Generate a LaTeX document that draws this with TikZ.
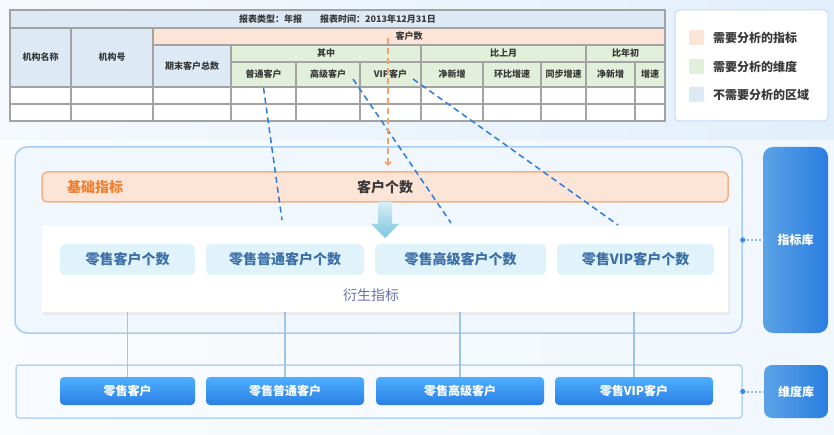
\documentclass[tikz,border=0pt]{standalone}
\usepackage{fontspec}
\setmainfont{Noto Sans CJK SC}
\usetikzlibrary{arrows.meta,calc}
\definecolor{hdrblue}{HTML}{DDE9F5}
\definecolor{peach}{HTML}{FCE4D6}
\definecolor{peachline}{HTML}{F4B183}
\definecolor{lgreen}{HTML}{E2EFDA}
\definecolor{gridgray}{HTML}{A3A3A3}
\definecolor{txtdark}{HTML}{3A3A3A}
\definecolor{mainline}{HTML}{A9CDF2}
\definecolor{mainfill}{HTML}{F1F7FE}
\definecolor{subfill}{HTML}{E1F3FA}
\definecolor{subtxt}{HTML}{3B6FA8}
\definecolor{derived}{HTML}{6A6FB0}
\definecolor{orangetxt}{HTML}{F0802E}
\definecolor{orangedash}{HTML}{F4A26B}
\definecolor{dashblue}{HTML}{2A7DE1}
\definecolor{vline}{HTML}{9EC4E8}
\definecolor{btntop}{HTML}{4DAFFF}
\definecolor{btnbot}{HTML}{2B7EE3}
\definecolor{libleft}{HTML}{5BA3E6}
\definecolor{libright}{HTML}{2A7DE1}
\definecolor{dotblue}{HTML}{3C8BE0}
\definecolor{dotline}{HTML}{8DBDF0}
\definecolor{bgleft}{HTML}{F5F9FD}
\definecolor{bgright}{HTML}{E2EFFB}
\definecolor{arrtop}{HTML}{D6EEF5}
\definecolor{arrbot}{HTML}{7EC6DE}
\tikzset{
  cell/.style={draw=gridgray, line width=1.4pt, inner sep=0pt, font=\bfseries\fontsize{9}{9}\selectfont, text=txtdark},
  legbox/.style={draw=mainline!70, fill=white, rounded corners=4pt, line width=1pt},
  swatch/.style={minimum width=15pt, minimum height=15pt, inner sep=0pt, rounded corners=1pt},
  legtxt/.style={anchor=west, font=\bfseries\fontsize{12}{12}\selectfont, text=txtdark, inner sep=0pt},
  subbox/.style={fill=subfill, rounded corners=5pt, minimum height=31pt, inner sep=0pt, text=subtxt, font=\bfseries\fontsize{14}{14}\selectfont},
  btn/.style={rounded corners=4pt, top color=btntop, bottom color=btnbot, minimum height=28pt, inner sep=0pt, text=white, font=\bfseries\fontsize{12}{12}\selectfont},
  libbox/.style={left color=libleft, right color=libright, inner sep=0pt, text=white, font=\bfseries\fontsize{12}{12}\selectfont},
  bluedash/.style={dashblue, line width=1.5pt, dash pattern=on 6pt off 4pt},
  conn/.style={vline, line width=1.4pt},
  dotconn/.style={dotline, line width=2pt, dash pattern=on 2pt off 2pt}
}
\begin{document}
\begin{tikzpicture}[x=1pt,y=-1pt]
\useasboundingbox (0,0) rectangle (834,435);
\shade[left color=bgleft, right color=bgright] (0,0) rectangle (834,435);
\fill[white, opacity=0.5] (0,140) rectangle (834,435);

% ---------- table ----------
\node[cell, fill=hdrblue, minimum width=655pt, minimum height=18pt] (hdr) at (337.5,19) {报表类型：年报\hspace{18pt}报表时间：2013年12月31日};
\node[cell, fill=hdrblue, minimum width=61pt, minimum height=59pt] (jgmc) at (40.5,57.5) {机构名称};
\node[cell, fill=hdrblue, minimum width=82pt, minimum height=59pt] (jgh) at (112,57.5) {机构号};
\node[cell, fill=peach, minimum width=512pt, minimum height=17pt] (khs) at (409,36.5) {客户数};
\node[cell, fill=hdrblue, minimum width=78pt, minimum height=42pt] (qm) at (192,66) {期末客户总数};
\node[cell, fill=lgreen, minimum width=190pt, minimum height=17pt] (qz) at (326,53.5) {其中};
\node[cell, fill=lgreen, minimum width=165pt, minimum height=17pt] (bsy) at (503.5,53.5) {比上月};
\node[cell, fill=lgreen, minimum width=79pt, minimum height=17pt] (bnc) at (625.5,53.5) {比年初};
\node[cell, fill=lgreen, minimum width=65pt, minimum height=25pt] (pt) at (263.5,74.5) {普通客户};
\node[cell, fill=lgreen, minimum width=64pt, minimum height=25pt] (gj) at (328,74.5) {高级客户};
\node[cell, fill=lgreen, minimum width=61pt, minimum height=25pt] (vip) at (390.5,74.5) {VIP客户};
\node[cell, fill=lgreen, minimum width=62pt, minimum height=25pt] (jxz1) at (452,74.5) {净新增};
\node[cell, fill=lgreen, minimum width=58pt, minimum height=25pt] (hb) at (512,74.5) {环比增速};
\node[cell, fill=lgreen, minimum width=45pt, minimum height=25pt] (tb) at (563.5,74.5) {同步增速};
\node[cell, fill=lgreen, minimum width=49pt, minimum height=25pt] (jxz2) at (610.5,74.5) {净新增};
\node[cell, fill=lgreen, minimum width=30pt, minimum height=25pt] (zs) at (650,74.5) {增速};
\fill[white] (10,87) rectangle (665,121);
\draw[gridgray, line width=1.4pt] (10,87) rectangle (665,121) (10,104) -- (665,104);
\foreach \xx in {71,153,231,296,360,421,483,541,586,635}
  \draw[gridgray, line width=1.4pt] (\xx,87) -- (\xx,121);

% ---------- legend ----------
\node[legbox, minimum width=153pt, minimum height=111pt] (leg) at (751.5,65.5) {};
\node[swatch, fill=peach] (sw1) at (696.5,37.5) {};
\node[swatch, fill=lgreen] (sw2) at (696.5,66.5) {};
\node[swatch, fill=hdrblue] (sw3) at (696.5,94.5) {};
\node[legtxt] (lt1) at (713,37.5) {需要分析的指标};
\node[legtxt] (lt2) at (713,66.5) {需要分析的维度};
\node[legtxt] (lt3) at (713,94.5) {不需要分析的区域};

% ---------- indicator area ----------
\node[draw=mainline, fill=mainfill, line width=1.5pt, rounded corners=12pt, minimum width=727pt, minimum height=186pt, inner sep=0pt] (main) at (378.5,240) {};
\node[draw=peachline, fill=peach, line width=1.5pt, rounded corners=5pt, minimum width=686pt, minimum height=30pt, inner sep=0pt] (base) at (385,187) {};
\node[text=orangetxt, font=\bfseries\fontsize{14}{14}\selectfont, inner sep=0pt] (basel) at (95,187) {基础指标};
\node[text=txtdark, font=\bfseries\fontsize{14}{14}\selectfont, inner sep=0pt] (khgs) at (385,187) {客户个数};
\fill[black!8] (43,228) rectangle (729.5,314.5);
\node[fill=white, minimum width=686pt, minimum height=86pt, inner sep=0pt] (panel) at (385,269) {};
\shade[top color=arrtop, bottom color=arrbot] (378,202) -- (392,202) -- (392,224) -- (399,224) -- (385,238) -- (371,224) -- (378,224) -- cycle;
\node[subbox, minimum width=135pt] (sA) at (127.5,259.5) {零售客户个数};
\node[subbox, minimum width=158pt] (sB) at (285,259.5) {零售普通客户个数};
\node[subbox, minimum width=171pt] (sC) at (460.5,259.5) {零售高级客户个数};
\node[subbox, minimum width=157pt] (sD) at (635.5,259.5) {零售VIP客户个数};
\node[text=derived, font=\fontsize{14}{14}\selectfont, inner sep=0pt] (ysl) at (371,295) {衍生指标};

% ---------- dimension area ----------
\node[draw=mainline!85, fill=mainfill!60, line width=1.5pt, rounded corners=3pt, minimum width=726pt, minimum height=53pt, inner sep=0pt] (dim) at (379,391.5) {};
\node[btn, minimum width=135pt] (bA) at (127.5,391) {零售客户};
\node[btn, minimum width=158pt] (bB) at (285,391) {零售普通客户};
\node[btn, minimum width=168pt] (bC) at (460,391) {零售高级客户};
\node[btn, minimum width=158pt] (bD) at (634,391) {零售VIP客户};

\draw[conn] (sA |- panel.south) -- (bA.north);
\draw[conn] (sB |- panel.south) -- (bB.north);
\draw[conn] (bC |- panel.south) -- (bC.north);
\draw[conn] (bD |- panel.south) -- (bD.north);

% ---------- libraries ----------
\node[libbox, rounded corners=10pt, minimum width=65pt, minimum height=186pt] (zbk) at (795.5,240) {指标库};
\node[libbox, rounded corners=8pt, minimum width=64pt, minimum height=53pt] (wdk) at (796,391.5) {维度库};
\draw[dotconn] (main.east) -- (zbk.west);
\draw[dotconn] (dim.east) -- (wdk.west);
\fill[dotblue] (main.east) circle (2.6pt);
\fill[dotblue] (dim.east) circle (2.6pt);

% ---------- dashed mappings ----------
\coordinate (e1) at (282,220);
\coordinate (e2) at (451,223);
\coordinate (e3) at (618,225);
\coordinate (s2) at (353,79);
\coordinate (s3) at (413,79);
\coordinate (o1) at (388,38);
\coordinate (o2) at (388,166);
\draw[bluedash] (pt.south) -- (e1);
\draw[bluedash] (s2) -- (e2);
\draw[bluedash] (s3) -- (e3);
\draw[orangedash, line width=1.5pt, dash pattern=on 6pt off 4pt, -{Straight Barb[length=3pt,width=6pt]}] (o1) -- (o2);
\end{tikzpicture}
\end{document}
